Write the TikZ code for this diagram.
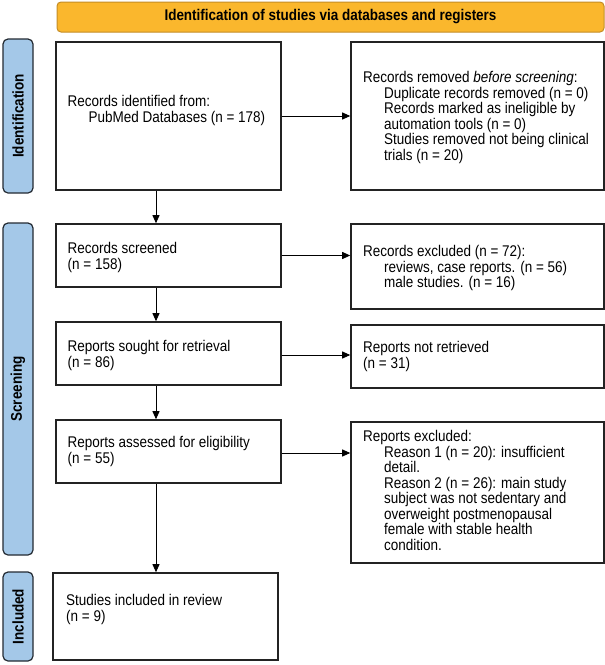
\documentclass[tikz,border=0pt]{standalone}
\usepackage{fontspec}
\setmainfont{Liberation Sans}[FakeStretch=0.87]
\usetikzlibrary{arrows.meta}
\definecolor{bannerfill}{RGB}{250,183,45}
\definecolor{bannerdraw}{RGB}{196,140,38}
\definecolor{labfill}{RGB}{164,200,232}
\definecolor{labdraw}{RGB}{35,42,50}
\definecolor{boxdraw}{RGB}{35,35,35}
\newcommand{\ind}{\hspace*{21pt}}
\begin{document}
\begin{tikzpicture}[x=1pt,y=-1pt,
  every node/.style={font=\fontsize{15.5}{15.5}\selectfont},
  box/.style={draw=boxdraw, line width=1.6pt, fill=white, inner sep=0pt},
  txt/.style={anchor=north west, align=left, inner sep=0pt},
  lab/.style={draw=labdraw, fill=labfill, line width=1.2pt, rounded corners=5pt, minimum width=30, inner sep=0pt},
  labtxt/.style={rotate=90, font=\fontsize{15.5}{15.5}\selectfont\bfseries},
  arr/.style={draw=black, line width=0.9pt, -{Triangle[length=8pt,width=7pt]}}
]
\useasboundingbox (0,0) rectangle (605,665);

% banner
\node[draw=bannerdraw, fill=bannerfill, line width=1pt, rounded corners=4pt,
      minimum width=547, minimum height=30, inner sep=0pt,
      font=\fontsize{15.5}{15.5}\selectfont\bfseries] (banner) at (330.5,17)
      {Identification of studies via databases and registers};

% side labels
\node[lab, minimum height=154] (lid) at (18,116) {};
\node[labtxt] (lidt) at (lid.center) {Identification};
\node[lab, minimum height=332] (lsc) at (18,389) {};
\node[labtxt] (lsct) at (lsc.center) {Screening};
\node[lab, minimum height=89] (lin) at (18,616.5) {};
\node[labtxt] (lint) at (lin.center) {Included};

% boxes
\node[box, minimum width=225, minimum height=148] (b1) at (168.5,116) {};
\node[box, minimum width=253, minimum height=148] (r1) at (477.5,116) {};
\node[box, minimum width=225, minimum height=63] (b2) at (168.5,255.5) {};
\node[box, minimum width=253, minimum height=85] (r2) at (477.5,266.5) {};
\node[box, minimum width=225, minimum height=63] (b3) at (168.5,353.5) {};
\node[box, minimum width=253, minimum height=63] (r3) at (477.5,356.5) {};
\node[box, minimum width=225, minimum height=63] (b4) at (168.5,451.5) {};
\node[box, minimum width=253, minimum height=141] (r4) at (477.5,492.5) {};
\node[box, minimum width=225, minimum height=87] (b5) at (165.5,616.5) {};

% texts
\node[txt] (t1) at (67.5,95.5) {Records identified from:\\\ind PubMed Databases (n = 178)};
\node[txt] (s1) at (363,71.5) {Records removed \textit{before screening}:\\
  \ind Duplicate records removed (n = 0)\\
  \ind Records marked as ineligible by\\
  \ind automation tools (n = 0)\\
  \ind Studies removed not being clinical\\
  \ind trials (n = 20)};
\node[txt] (t2) at (67.5,242.5) {Records screened\\(n = 158)};
\node[txt] (s2) at (363,245.5) {Records excluded (n = 72):\\
  \ind reviews, case reports. (n = 56)\\
  \ind male studies. (n = 16)};
\node[txt] (t3) at (67.5,340.5) {Reports sought for retrieval\\(n = 86)};
\node[txt] (s3) at (363,341.5) {Reports not retrieved\\(n = 31)};
\node[txt] (t4) at (67.5,436.5) {Reports assessed for eligibility\\(n = 55)};
\node[txt] (s4) at (363,430.5) {Reports excluded:\\
  \ind Reason 1 (n = 20): insufficient\\
  \ind detail.\\
  \ind Reason 2 (n = 26): main study\\
  \ind subject was not sedentary and\\
  \ind overweight postmenopausal\\
  \ind female with stable health\\
  \ind condition.};
\node[txt] (t5) at (66,594.5) {Studies included in review\\(n = 9)};

% connectors
\coordinate (ax) at (156,0);
\draw[arr] (b1.east) -- (r1.west);
\draw[arr] (b2.east) -- (b2.east -| r2.west);
\draw[arr] (b3.east) ++(0,1.5) coordinate (c3) -- (c3 -| r3.west);
\draw[arr] (b4.east) ++(0,1.5) coordinate (c4) -- (c4 -| r4.west);
\draw[arr] (b1.south -| ax) -- (b2.north -| ax);
\draw[arr] (b2.south -| ax) -- (b3.north -| ax);
\draw[arr] (b3.south -| ax) -- (b4.north -| ax);
\draw[arr] (b4.south -| ax) -- (b5.north -| ax);
\end{tikzpicture}
\end{document}
